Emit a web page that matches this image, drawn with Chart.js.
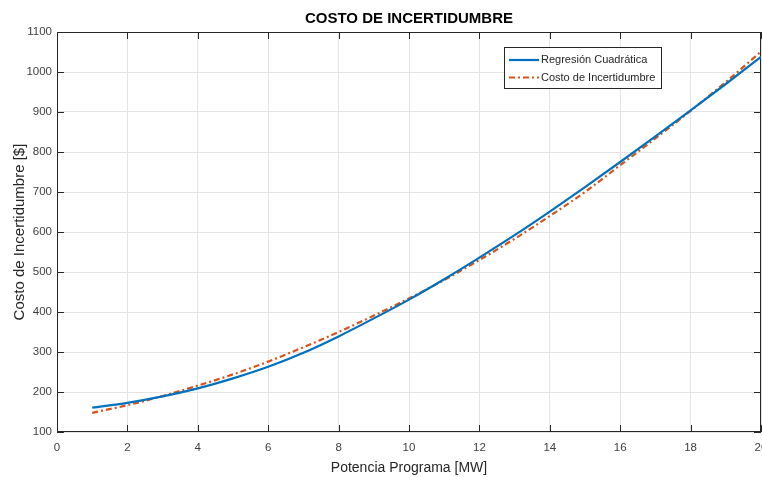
<!DOCTYPE html>
<html>
<head>
<meta charset="UTF-8">
<title>Costo de Incertidumbre</title>
<script src="https://cdn.jsdelivr.net/npm/chart.js@4.4.0/dist/chart.umd.min.js"></script>
<style>
  body { margin: 0; background: #fff; overflow: hidden; }
</style>
</head>
<body>
<canvas id="grafico" width="762" height="477"></canvas>
<script>
// datos
var potencia = [1, 2, 3, 4, 5, 6, 7, 8, 9, 10, 11, 12, 13, 14, 15, 16, 17, 18, 19, 20];
var regresion = [161, 173, 189, 209, 234, 263, 298, 339, 384, 431, 482, 536, 592, 651, 712, 775, 839, 904, 970, 1038];
var costo = [148, 167, 190, 216, 244, 276, 312, 350, 391, 434, 480, 530, 583, 640, 700, 767, 834, 903, 975, 1051];
var ticksX = [0, 2, 4, 6, 8, 10, 12, 14, 16, 18, 20];
var ticksY = [100, 200, 300, 400, 500, 600, 700, 800, 900, 1000, 1100];

var gris = '#262626';
var fuente = '"Liberation Sans", Arial, sans-serif';

function puntos(ys) {
    var p = [];
    for (var i = 0; i < potencia.length; i++) {
        p.push({ x: potencia[i], y: ys[i] });
    }
    return p;
}

// caja de ejes con marcas hacia adentro (estilo matlab)
var marcoEjes = {
    id: 'marcoEjes',
    beforeDatasetsDraw: function (chart) {
        var ctx = chart.ctx, a = chart.chartArea;
        var sx = chart.scales.x, sy = chart.scales.y;
        var largo = 7;
        ctx.save();
        ctx.strokeStyle = gris;
        ctx.lineWidth = 1;
        ctx.strokeRect(a.left + 0.5, a.top + 0.5, a.right - a.left - 1, a.bottom - a.top - 1);
        ctx.beginPath();
        ticksX.forEach(function (v) {
            var px = Math.round(sx.getPixelForValue(v)) + 0.5;
            ctx.moveTo(px, a.bottom); ctx.lineTo(px, a.bottom - largo);
            ctx.moveTo(px, a.top); ctx.lineTo(px, a.top + largo);
        });
        ticksY.forEach(function (v) {
            var py = Math.round(sy.getPixelForValue(v)) + 0.5;
            ctx.moveTo(a.left, py); ctx.lineTo(a.left + largo, py);
            ctx.moveTo(a.right, py); ctx.lineTo(a.right - largo, py);
        });
        ctx.stroke();
        ctx.restore();
    }
};

// leyenda con recuadro
var leyenda = {
    id: 'leyenda',
    afterDraw: function (chart) {
        var ctx = chart.ctx;
        var x0 = 504, y0 = 47, w = 157, h = 41;
        ctx.save();
        ctx.fillStyle = '#fff';
        ctx.fillRect(x0, y0, w, h);
        ctx.strokeStyle = gris;
        ctx.lineWidth = 1;
        ctx.strokeRect(x0 + 0.5, y0 + 0.5, w, h);
        ctx.font = '11px ' + fuente;
        ctx.textBaseline = 'middle';
        chart.data.datasets.forEach(function (ds, i) {
            var y = y0 + 13 + i * 17.5;
            ctx.strokeStyle = ds.borderColor;
            ctx.lineWidth = ds.borderWidth;
            ctx.setLineDash(ds.borderDash || []);
            ctx.beginPath();
            ctx.moveTo(x0 + 5, y); ctx.lineTo(x0 + 35, y);
            ctx.stroke();
            ctx.setLineDash([]);
            ctx.fillStyle = gris;
            ctx.fillText(ds.label, x0 + 37, y);
        });
        ctx.restore();
    }
};

var ctx = document.getElementById('grafico').getContext('2d');
var grafico = new Chart(ctx, {
    type: 'line',
    data: {
        datasets: [{
            label: 'Regresión Cuadrática',
            data: puntos(regresion),
            borderColor: '#0072BD',
            borderWidth: 2.2,
            pointRadius: 0,
            fill: false,
            cubicInterpolationMode: 'monotone'
        }, {
            label: 'Costo de Incertidumbre',
            data: puntos(costo),
            borderColor: '#D95319',
            borderWidth: 2.2,
            borderDash: [6, 3, 2, 3],
            pointRadius: 0,
            fill: false,
            cubicInterpolationMode: 'monotone'
        }]
    },
    options: {
        responsive: false,
        animation: false,
        devicePixelRatio: 1,
        layout: { padding: { left: 0, right: 1, top: 0, bottom: 0 } },
        plugins: {
            legend: { display: false },
            tooltip: { enabled: false },
            title: {
                display: true,
                text: 'COSTO DE INCERTIDUMBRE',
                fullSize: false,
                color: '#000',
                font: { family: fuente, size: 15, weight: 'bold' },
                padding: { top: 10, bottom: 4 }
            }
        },
        scales: {
            x: {
                type: 'linear',
                min: 0,
                max: 20,
                afterBuildTicks: function (s) { s.ticks = ticksX.map(function (v) { return { value: v }; }); },
                afterFit: function (s) { s.height = 45; s.paddingLeft = 0; s.paddingRight = 0; },
                grid: { color: '#e3e3e3', drawTicks: false },
                border: { display: false },
                ticks: {
                    color: '#404040',
                    padding: 9,
                    maxRotation: 0,
                    autoSkip: false,
                    font: { family: fuente, size: 11.5 },
                    callback: function (v) { return String(v); }
                },
                title: {
                    display: true,
                    text: 'Potencia Programa [MW]',
                    color: gris,
                    font: { family: fuente, size: 14 },
                    padding: { top: 0, bottom: 0 }
                }
            },
            y: {
                type: 'linear',
                min: 100,
                max: 1100,
                afterBuildTicks: function (s) { s.ticks = ticksY.map(function (v) { return { value: v }; }); },
                afterFit: function (s) { s.width = 57; s.paddingTop = 0; s.paddingBottom = 0; },
                grid: { color: '#e3e3e3', drawTicks: false },
                border: { display: false },
                ticks: {
                    color: '#404040',
                    padding: 5,
                    autoSkip: false,
                    font: { family: fuente, size: 11.5 },
                    callback: function (v) { return String(v); }
                },
                title: {
                    display: true,
                    text: 'Costo de Incertidumbre [$]',
                    color: gris,
                    font: { family: fuente, size: 15 },
                    padding: { top: 11, bottom: 0 }
                }
            }
        }
    },
    plugins: [marcoEjes, leyenda]
});
</script>
</body>
</html>
